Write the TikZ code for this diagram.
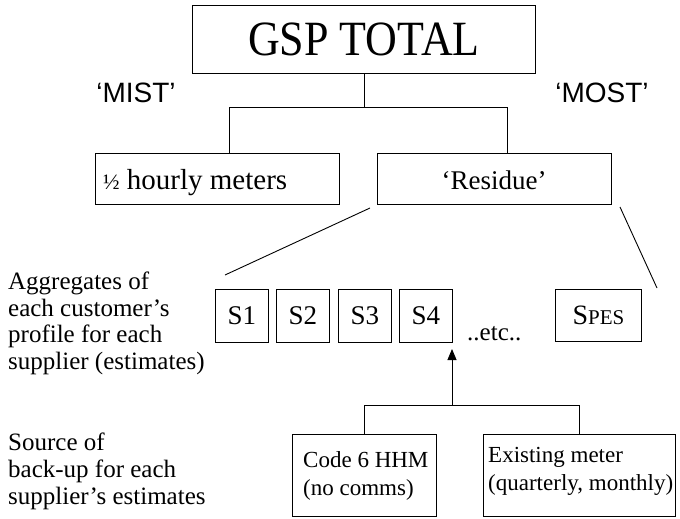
\documentclass[tikz,border=0pt]{standalone}
\usepackage{fontspec}
\usepackage{graphicx}
\setmainfont{Liberation Serif}
\newfontfamily\sansf{Liberation Sans}
\usetikzlibrary{arrows.meta}
\tikzset{
  box/.style={draw, line width=0.9pt, inner sep=0pt, anchor=north west},
  conn/.style={line width=0.9pt},
  txt/.style={inner sep=0pt, align=left, anchor=north west},
}
\newcommand{\fs}[2]{\fontsize{#1}{#2}\selectfont}
\begin{document}
\begin{tikzpicture}[x=1pt,y=-1pt]
\useasboundingbox (0,0) rectangle (680,519);
% top
\node[box, minimum width=343pt, minimum height=68pt] (gsp) at (192,5) {};
\node at (gsp.center) [font=\fs{44}{44}, inner sep=0pt] (gspt) {\scalebox{1}[1.12]{GSP TOTAL}};
\node[inner sep=0pt, font=\sansf\fs{28}{28}] (mist) at (136,93) {‘MIST’};
\node[inner sep=0pt, font=\sansf\fs{28}{28}] (most) at (602,93) {‘MOST’};
\node[box, minimum width=244pt, minimum height=51pt] (hh) at (95,153) {};
\node[inner sep=0pt, anchor=base west, font=\fs{29}{29}] (hht) at (103,189) {{\fs{22}{22}½} hourly meters};
\node[box, minimum width=234pt, minimum height=51pt] (re) at (377,153) {};
\node[inner sep=0pt, anchor=base, font=\fs{27}{27}] (ret) at (494,189) {‘Residue’};
\coordinate (hj) at (229,107);
\coordinate (rj) at (507,107);
\coordinate (hhtop) at (229,153);
\coordinate (retop) at (507,153);
\draw[conn] (gsp.south) -- (gsp.south |- hj);
\draw[conn] (hhtop) -- (hj) -- (rj) -- (retop);
% diagonals
\coordinate (dl1) at (370,208);
\coordinate (dl2) at (225,275);
\coordinate (dr1) at (620,207);
\coordinate (dr2) at (657,288);
\draw[conn] (dl1) -- (dl2);
\draw[conn] (dr1) -- (dr2);
% suppliers
\node[box, minimum width=53pt, minimum height=53pt] (s1) at (215,289) {};
\node[box, minimum width=53pt, minimum height=53pt] (s2) at (276,289) {};
\node[box, minimum width=53pt, minimum height=53pt] (s3) at (338,289) {};
\node[box, minimum width=53pt, minimum height=53pt] (s4) at (399,289) {};
\node[inner sep=0pt, font=\fs{27}{27}] (s1t) at (s1.center) {S1};
\node[inner sep=0pt, font=\fs{27}{27}] (s2t) at (s2.center) {S2};
\node[inner sep=0pt, font=\fs{27}{27}] (s3t) at (s3.center) {S3};
\node[inner sep=0pt, font=\fs{27}{27}] (s4t) at (s4.center) {S4};
\node[box, minimum width=86pt, minimum height=52pt] (spes) at (555,289) {};
\node[inner sep=0pt] (spest) at (spes.center) {{\fs{28}{28}S}{\fs{21}{21}PES}};
\node[inner sep=0pt, anchor=base west, font=\fs{25}{25}] (etc) at (467,340) {..etc..};
% left text
\node[txt, font=\fs{25}{26.5}] (agg) at (8,272) {Aggregates of\\each customer’s\\profile for each\\supplier (estimates)};
\node[txt, font=\fs{25}{27}] (src) at (8,433) {Source of\\back-up for each\\supplier’s estimates};
% bottom
\node[box, minimum width=144pt, minimum height=82pt] (code) at (292,434) {};
\node[box, minimum width=192pt, minimum height=82pt] (exist) at (483,434) {};
\node[txt, font=\fs{23}{28}] (codet) at (303,451) {Code 6 HHM\\(no comms)};
\node[txt, font=\fs{23}{28}] (existt) at (488,447) {Existing meter\\(quarterly, monthly)};
\coordinate (cj) at (364,405);
\coordinate (ej) at (579,405);
\coordinate (aj) at (452,405);
\coordinate (atip) at (452,349);
\draw[conn] (code.north -| cj) -- (cj) -- (ej) -- (exist.north -| ej);
\draw[conn, -{Triangle[length=11pt,width=9pt]}] (aj) -- (atip);
\end{tikzpicture}
\end{document}
